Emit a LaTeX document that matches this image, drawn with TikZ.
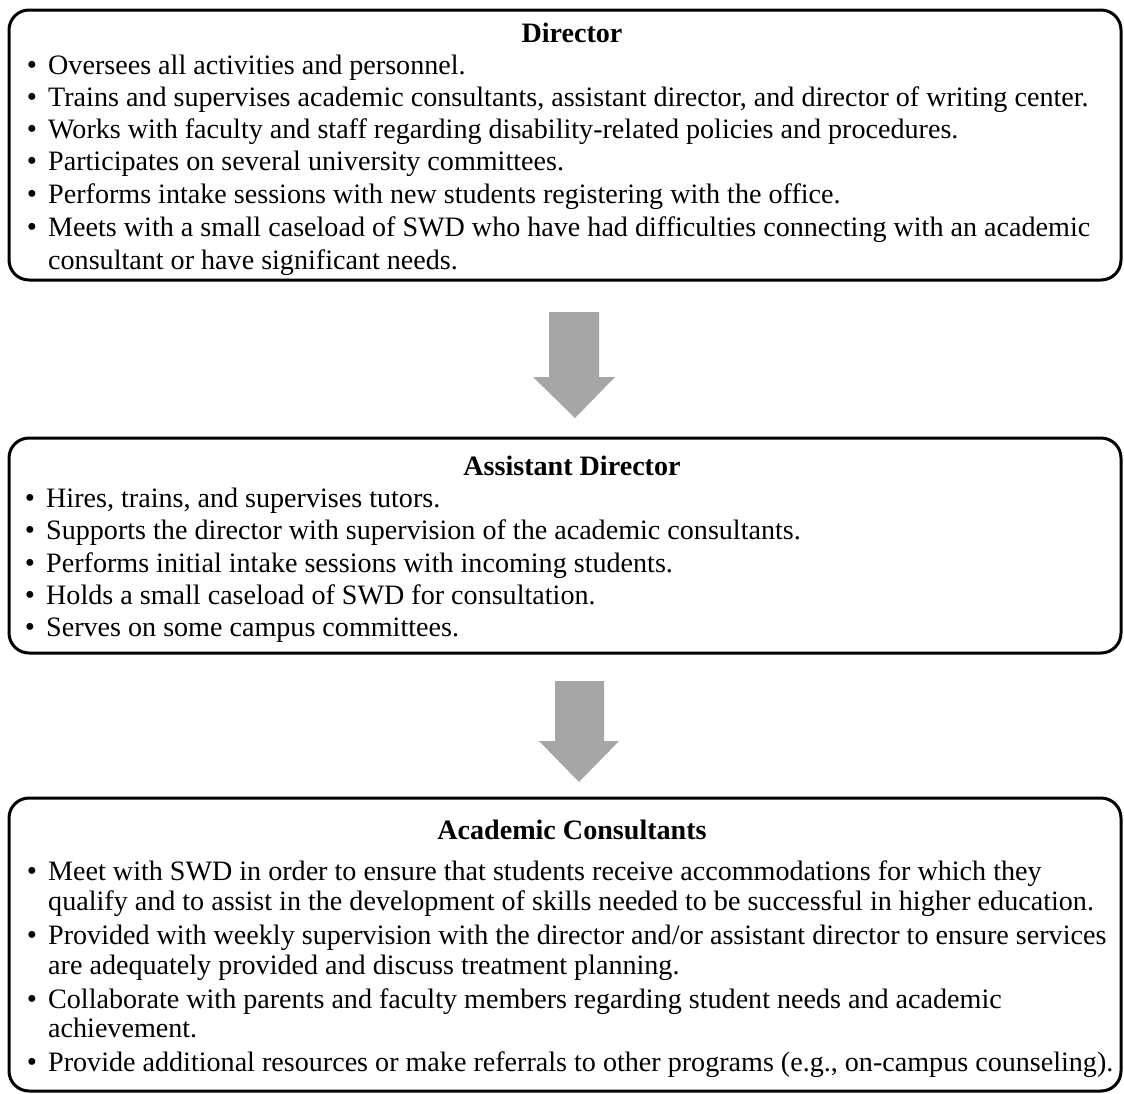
\documentclass[tikz,border=0pt]{standalone}
\usepackage{fontspec}
\setmainfont{Liberation Serif}
\begin{document}
\begin{tikzpicture}[x=1pt,y=-1pt,
  box/.style={draw=black, line width=3pt, rounded corners=20pt, inner sep=0pt, outer sep=0pt, anchor=north west, fill=white},
  txt/.style={anchor=base west, inner sep=0pt, font=\fontsize{28.1}{32}\selectfont},
  ttl/.style={anchor=base, inner sep=0pt, font=\fontsize{28.1}{32}\selectfont\bfseries},
  bul/.style={anchor=base, inner sep=0pt, font=\fontsize{29}{32}\selectfont},
  blockarrow/.style={fill=arrowgrey, draw=none}]
\definecolor{arrowgrey}{HTML}{A6A6A6}
\useasboundingbox (0,0) rectangle (1124,1093);
% boxes
\node[box, minimum width=1112pt, minimum height=270pt] (dirbox) at (9,10) {};
\node[box, minimum width=1112pt, minimum height=215pt] (adbox) at (9,438) {};
\node[box, minimum width=1112pt, minimum height=293pt] (acbox) at (9,798) {};
% arrows
\fill[blockarrow] (549,312) -- (599,312) -- (599,377) -- (615,377) -- (575,418) -- (533,377) -- (549,377) -- cycle;
\fill[blockarrow] (555,681) -- (604,681) -- (604,741) -- (619,741) -- (579,782) -- (539,741) -- (555,741) -- cycle;
% Director
\node[ttl] (dt) at (572,42) {Director};
\foreach \y in {74,106,138,170,203,236} \node[bul] at (32,\y) {•};
\node[txt] (d1) at (48,74) {Oversees all activities and personnel.};
\node[txt] (d2) at (48,106) {Trains and supervises academic consultants, assistant director, and director of writing center.};
\node[txt] (d3) at (48,138) {Works with faculty and staff regarding disability-related policies and procedures.};
\node[txt] (d4) at (48,170) {Participates on several university committees.};
\node[txt] (d5) at (48,203) {Performs intake sessions with new students registering with the office.};
\node[txt] (d6) at (48,236) {Meets with a small caseload of SWD who have had difficulties connecting with an academic};
\node[txt] (d7) at (48,269) {consultant or have significant needs.};
% Assistant Director
\node[ttl] (at) at (572,475) {Assistant Director};
\foreach \y in {507,539,572,604,636} \node[bul] at (30,\y) {•};
\node[txt] (a1) at (46,507) {Hires, trains, and supervises tutors.};
\node[txt] (a2) at (46,539) {Supports the director with supervision of the academic consultants.};
\node[txt] (a3) at (46,572) {Performs initial intake sessions with incoming students.};
\node[txt] (a4) at (46,604) {Holds a small caseload of SWD for consultation.};
\node[txt] (a5) at (46,636) {Serves on some campus committees.};
% Academic Consultants
\node[ttl] (ct) at (572,839) {Academic Consultants};
\foreach \y in {880,944,1008,1071} \node[bul] at (32,\y) {•};
\node[txt] (c1) at (48,880) {Meet with SWD in order to ensure that students receive accommodations for which they};
\node[txt] (c2) at (48,910) {qualify and to assist in the development of skills needed to be successful in higher education.};
\node[txt] (c3) at (48,944) {Provided with weekly supervision with the director and/or assistant director to ensure services};
\node[txt] (c4) at (48,974) {are adequately provided and discuss treatment planning.};
\node[txt] (c5) at (48,1008) {Collaborate with parents and faculty members regarding student needs and academic};
\node[txt] (c6) at (48,1037) {achievement.};
\node[txt] (c7) at (48,1071) {Provide additional resources or make referrals to other programs (e.g., on-campus counseling).};
\end{tikzpicture}
\end{document}
